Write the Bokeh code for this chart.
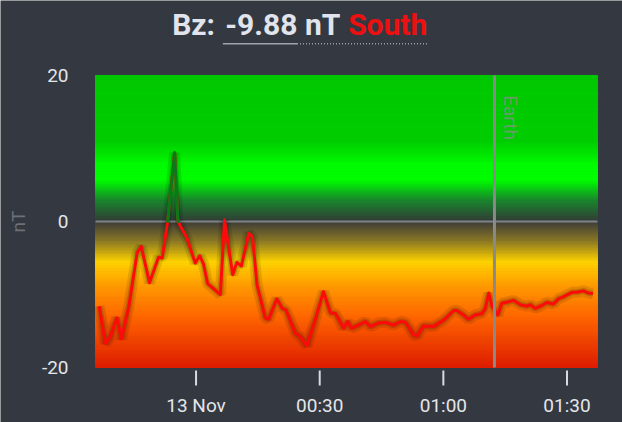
from bokeh.plotting import figure
from bokeh.models import Range1d, Label
from bokeh.embed import file_html
from bokeh.resources import INLINE
import numpy as np

# Bz readings, minutes relative to 13 Nov 00:00
minutes = [-23.5, -22.0, -20.8, -19.2, -18.1, -16.3, -14.3, -13.3, -11.3, -9.1,
           -8.2, -6.9, -5.2, -4.4, -2.2, -0.2, 0.9, 1.8, 2.8, 5.9,
           6.9, 8.9, 9.9, 11.0, 12.8, 13.7, 14.8, 16.8, 17.6, 19.6,
           20.9, 21.8, 24.1, 25.3, 26.9, 28.9, 30.9, 32.6, 33.8, 35.8,
           36.8, 37.7, 39.4, 41.1, 42.3, 44.3, 45.9, 47.9, 49.6, 50.8,
           52.8, 53.6, 55.2, 57.6, 60.1, 62.5, 63.3, 64.9, 66.1, 67.7,
           69.4, 70.2, 71.0, 71.8, 73.2, 74.2, 75.8, 77.0, 78.7, 80.3,
           81.1, 82.3, 83.9, 85.1, 86.7, 87.9, 89.2, 91.2, 92.4, 94.0,
           95.2, 96.3]
bz = [-11.6, -16.7, -15.8, -13.2, -16.1, -11.6, -4.3, -3.4, -8.4, -4.9,
      -5.0, 0.0, 9.4, 0.0, -2.3, -5.7, -4.7, -5.8, -8.5, -10.0,
      0.2, -7.3, -5.6, -6.1, -1.6, -2.1, -8.7, -13.2, -13.4, -10.6,
      -11.9, -12.1, -15.3, -15.8, -17.0, -13.5, -9.6, -12.5, -12.6, -14.6,
      -13.7, -14.6, -14.2, -13.7, -14.4, -13.9, -13.8, -14.2, -13.7, -13.8,
      -15.5, -15.7, -14.3, -14.4, -13.5, -12.2, -12.2, -12.8, -13.4, -12.8,
      -12.6, -11.9, -9.8, -11.6, -12.8, -11.2, -11.0, -10.8, -11.4, -11.6,
      -11.4, -11.9, -11.5, -11.1, -11.3, -10.6, -10.3, -9.7, -9.7, -9.5,
      -9.8, -9.88]

tick_minutes = [0, 30, 60, 90]
tick_labels = ["13 Nov", "00:30", "01:00", "01:30"]
y_ticks = [-20, 0, 20]
y_tick_labels = ["-20", "0", "20"]
earth_minute = 72.4
x_lo, x_hi = -24.4, 97.4
y_lo, y_hi = -20, 20

BG = "#343840"
Y_BOT, Y_TOP = -27.534, 30.27
PX = 422 / (Y_TOP - Y_BOT)  # pixels per nT

# the frame covers the whole canvas: header, y labels and time labels sit
# inside it; the chart area itself is x_lo..x_hi, y_lo..y_hi
p = figure(width=622, height=422, output_backend="svg", toolbar_location=None,
           x_range=Range1d(-47.445, 103.464), y_range=Range1d(Y_BOT, Y_TOP),
           background_fill_color=BG, border_fill_color=BG, min_border=0)
p.outline_line_color = None
p.grid.visible = False
p.axis.visible = False

# background gradient, green above zero, yellow/orange/red below
stops = [(20, (0, 200, 0)), (11, (0, 206, 0)), (8, (0, 250, 0)), (5.8, (0, 255, 0)),
         (3, (25, 135, 45)), (0.01, (52, 58, 56)), (-0.01, (64, 62, 56)),
         (-2.5, (135, 118, 38)), (-5.5, (255, 210, 0)), (-9, (255, 150, 0)),
         (-13, (255, 102, 0)), (-20, (222, 28, 0))]
edges = np.linspace(y_lo, y_hi, 201)
mids = (edges[:-1] + edges[1:]) / 2
sv = [s[0] for s in stops][::-1]
cols = []
for m in mids:
    rgb = [np.interp(m, sv, [s[1][k] for s in stops][::-1]) for k in range(3)]
    cols.append("#%02x%02x%02x" % tuple(int(round(c)) for c in rgb))
p.quad(left=x_lo, right=x_hi, bottom=edges[:-1], top=edges[1:],
       fill_color=cols, line_color=cols, line_width=1)

p.segment(x_lo, 0, x_hi, 0, line_color="#80848a", line_width=2)

# data line with soft shadow
p.line(minutes, bz, line_color="black", line_alpha=0.10, line_width=11)
p.line(minutes, bz, line_color="black", line_alpha=0.15, line_width=6)
p.line(minutes, bz, line_color="#ff0a0a", line_width=3, line_join="round")
gx0, gy0, gx1, gy1 = [], [], [], []
for i in range(len(bz) - 1):
    if bz[i] >= 0 and bz[i + 1] >= 0:
        gx0.append(minutes[i]); gy0.append(bz[i]); gx1.append(minutes[i + 1]); gy1.append(bz[i + 1])
p.segment(gx0, gy0, gx1, gy1, line_color="#0a7a18", line_width=3, line_cap="round")

p.segment(earth_minute, y_lo, earth_minute, y_hi, line_color="#8a8a8a", line_width=3)
p.add_layout(Label(x=earth_minute, y=17.3, x_offset=16, text="Earth", angle=-np.pi / 2,
                   text_align="left", text_baseline="alphabetic",
                   text_font="Roboto", text_font_size="19px",
                   text_color="#8a8f8a", text_alpha=0.75))

# time axis: tick marks just below the chart, labels under them
p.segment(tick_minutes, y_lo - 3 / PX, tick_minutes, y_lo - 18 / PX,
          line_color="#d8dadf", line_width=2)
for m, t in zip(tick_minutes, tick_labels):
    p.add_layout(Label(x=m, y=y_lo - 38.5 / PX, text=t, text_align="center",
                       text_baseline="middle", text_font="Roboto", text_font_size="19px",
                       text_color="#e4e6ea"))

# value axis labels
for v, t in zip(y_ticks, y_tick_labels):
    p.add_layout(Label(x=x_lo, y=v, x_offset=-27, text=t, text_align="right",
                       text_baseline="middle", text_font="Roboto", text_font_size="19px",
                       text_color="#e4e6ea"))
p.add_layout(Label(x=x_lo, y=0, x_offset=-77, text="nT", angle=np.pi / 2,
                   text_align="center", text_baseline="middle", text_font="Roboto",
                   text_font_size="19px", text_color="#6c7077"))

# header
head = dict(text_baseline="alphabetic", text_font="Roboto", text_font_style="bold",
            text_font_size="30px", text_color="#e1e4ec")
p.add_layout(Label(x=-5.8, y=26.95, text="Bz:", text_align="left", **head))
p.add_layout(Label(x=35.0, y=26.95, text="-9.88 nT", text_align="right", **head))
head["text_color"] = "#ee1010"
p.add_layout(Label(x=36.9, y=26.95, text="South", text_align="left", **head))
p.segment(6.5, 24.34, 24.5, 24.34, line_color="#a0a3a8", line_width=1.5)
p.segment(24.5, 24.34, 56.1, 24.34, line_color="#a0a3a8", line_width=1.5, line_dash="1 2")

open("out.html", "w").write(file_html(p, INLINE))
